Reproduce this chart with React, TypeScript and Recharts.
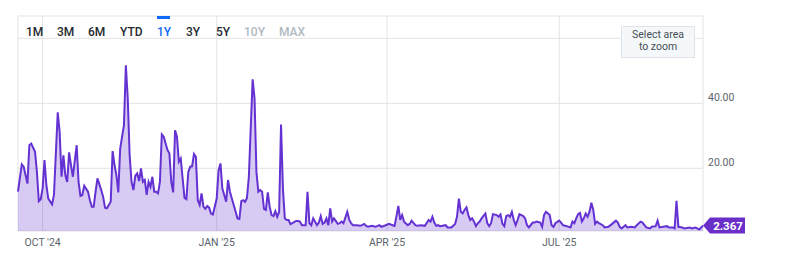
import React from "react";
import {
  AreaChart,
  Area,
  XAxis,
  YAxis,
  CartesianGrid,
  ReferenceLine,
} from "recharts";

// days since 2024-09-18
const dayOffsets = [
  0, 2, 3, 5, 6, 7, 9, 10, 11, 12,
  13, 14, 15, 16, 18, 19, 21, 22, 23, 24,
  25, 26, 27, 28, 29, 31, 32, 33, 34, 35,
  37, 38, 39, 40, 41, 42, 44, 45, 46, 47,
  49, 50, 51, 52, 53, 54, 56, 57, 58, 59,
  60, 61, 62, 63, 64, 65, 66, 67, 68, 69,
  70, 71, 72, 73, 74, 75, 76, 77, 79, 80,
  81, 82, 83, 84, 85, 86, 87, 88, 89, 90,
  91, 92, 93, 94, 95, 96, 97, 98, 99, 100,
  101, 102, 103, 105, 106, 107, 108, 109, 110, 111,
  112, 113, 114, 116, 117, 118, 119, 120, 121, 122,
  124, 125, 126, 127, 128, 129, 130, 131, 132, 133,
  134, 135, 136, 137, 138, 139, 140, 141, 142, 143,
  144, 145, 147, 148, 149, 150, 152, 153, 154, 155,
  156, 158, 159, 160, 161, 162, 163, 164, 165, 166,
  167, 169, 170, 171, 172, 174, 175, 176, 177, 179,
  181, 183, 184, 185, 187, 189, 191, 192, 194, 196,
  198, 199, 200, 201, 202, 203, 204, 206, 207, 208,
  210, 211, 213, 215, 217, 218, 219, 220, 221, 222,
  223, 226, 227, 229, 231, 232, 233, 234, 235, 236,
  237, 238, 239, 240, 241, 242, 243, 244, 245, 247,
  248, 249, 250, 251, 253, 254, 255, 256, 257, 258,
  259, 260, 261, 262, 263, 264, 265, 267, 268, 269,
  270, 272, 273, 274, 276, 277, 278, 279, 281, 282,
  283, 284, 286, 287, 288, 290, 292, 293, 294, 295,
  296, 297, 298, 299, 300, 301, 302, 303, 304, 305,
  306, 307, 309, 310, 312, 314, 316, 317, 318, 319,
  321, 322, 324, 326, 327, 329, 330, 332, 334, 335,
  337, 338, 339, 341, 343, 344, 346, 347, 348, 349,
  351, 352, 355, 356, 358, 360, 361, 362,
];

const values = [
  12.8, 21.2, 20.5, 15.3, 27.1, 27.6, 25.1, 18.9, 9.9, 10.5,
  13.8, 22.5, 14.8, 10.7, 8.9, 11.8, 37.2, 31.2, 17.4, 24.0,
  17.9, 15.8, 24.9, 21.0, 17.4, 27.1, 15.8, 11.5, 11.8, 14.6,
  12.8, 10.2, 8.2, 8.2, 12.8, 16.9, 13.3, 11.2, 7.9, 7.7,
  9.7, 25.3, 21.0, 17.9, 12.6, 26.1, 33.3, 51.7, 41.5, 24.0,
  15.8, 13.3, 17.7, 18.4, 16.1, 20.0, 15.8, 16.4, 11.8, 15.8,
  14.3, 17.4, 12.8, 12.8, 12.3, 15.8, 30.4, 29.7, 25.6, 24.6,
  15.8, 12.6, 31.7, 29.7, 22.0, 23.0, 16.9, 10.9, 10.5, 18.9,
  20.5, 20.6, 24.4, 23.5, 10.2, 8.7, 12.3, 8.2, 7.5, 8.4,
  7.9, 6.1, 5.8, 10.7, 19.4, 21.5, 13.8, 11.8, 9.7, 16.4,
  12.8, 10.7, 8.7, 4.6, 4.4, 9.9, 10.2, 9.7, 10.9, 17.4,
  47.4, 41.5, 18.9, 12.8, 13.3, 12.8, 7.5, 7.2, 12.6, 8.2,
  5.6, 5.3, 6.8, 5.1, 6.6, 33.5, 13.8, 4.6, 4.1, 4.1,
  2.8, 3.1, 3.8, 3.8, 3.6, 2.5, 2.5, 12.8, 3.1, 2.5,
  4.6, 2.5, 3.3, 5.3, 2.9, 3.3, 4.6, 2.5, 7.7, 3.6,
  4.6, 2.9, 3.1, 3.6, 3.1, 6.6, 4.3, 3.1, 2.5, 2.5,
  2.3, 2.9, 2.3, 2.0, 2.3, 2.0, 2.5, 2.0, 2.4, 2.9,
  2.5, 2.3, 5.3, 8.4, 4.1, 5.6, 3.6, 2.5, 2.9, 3.9,
  2.5, 2.3, 2.5, 2.3, 4.1, 3.6, 5.1, 3.3, 2.3, 2.5,
  2.2, 2.5, 1.8, 1.8, 2.9, 5.1, 10.7, 6.6, 6.1, 7.2,
  8.0, 5.6, 4.1, 4.6, 3.6, 2.2, 3.1, 3.6, 4.6, 6.1,
  3.1, 2.2, 3.1, 5.9, 5.6, 5.1, 5.8, 2.9, 2.2, 5.3,
  5.6, 5.1, 6.6, 4.1, 2.5, 4.1, 5.9, 5.3, 4.6, 2.5,
  1.8, 3.3, 3.3, 3.6, 3.3, 2.0, 5.6, 6.6, 5.6, 2.5,
  2.0, 3.1, 3.9, 3.3, 2.5, 2.2, 1.8, 3.6, 3.1, 4.6,
  5.9, 6.3, 3.6, 4.6, 6.1, 5.1, 6.6, 9.4, 7.2, 2.9,
  3.6, 3.1, 2.5, 1.8, 2.0, 2.9, 3.9, 3.3, 2.0, 1.5,
  2.5, 1.8, 2.0, 1.8, 2.5, 3.6, 3.3, 1.8, 1.5, 2.0,
  2.2, 3.9, 1.8, 2.0, 2.2, 1.8, 1.8, 1.5, 10.0, 2.0,
  1.8, 1.5, 1.8, 1.5, 1.8, 1.2, 1.8, 2.37,
];

const lastValue = 2.367;

// x ticks: frame edges + month starts
const xTicks = [0, 13, 105, 195, 286, 362];
const xTickLabels: Record<number, string> = {
  13: "OCT '24",
  105: "JAN '25",
  195: "APR '25",
  286: "JUL '25",
};

const yMin = 0.71;
const yMax = 66.86;
const yTicks = [20, 40, 60, yMax];
const yLabelTicks = [20, 40];

const ranges = ["1M", "3M", "6M", "YTD", "1Y", "3Y", "5Y", "10Y", "MAX"];
const rangeLeft = [26, 57, 88, 120, 157, 186, 216, 244, 279];
const activeRange = "1Y";
const disabledRanges = ["10Y", "MAX"];

const data = dayOffsets.map((d, i) => ({ day: d, value: values[i] }));

const FONT = "Roboto, 'Helvetica Neue', Arial, sans-serif";
const PURPLE = "#6432d2";

function YTick(props: any) {
  const { x, y, payload } = props;
  if (!yLabelTicks.includes(payload.value)) return null;
  return (
    <text
      x={x}
      y={y - 6}
      fill="#5b636a"
      fontSize={10.5}
      fontFamily={FONT}
      textAnchor="start"
      dominantBaseline="central"
    >
      {payload.value.toFixed(2)}
    </text>
  );
}

function renderBadge(props: any) {
  const vb = props.viewBox || {};
  const right = (vb.x || 0) + (vb.width || 0);
  const cy = vb.y || 0;
  const h = 8;
  return (
    <g>
      <polygon
        points={`${right},${cy} ${right + 7},${cy - h} ${right + 42},${cy - h} ${right + 42},${cy + h} ${right + 7},${cy + h}`}
        fill="#6a2fc9"
      />
      <text
        x={right + 25}
        y={cy}
        fill="#fff"
        fontSize={11.5}
        fontWeight={700}
        fontFamily={FONT}
        textAnchor="middle"
        dominantBaseline="central"
      >
        {lastValue.toFixed(3)}
      </text>
    </g>
  );
}

export default function App() {
  return (
    <div
      style={{
        position: "absolute",
        left: 0,
        top: 0,
        width: 797,
        height: 253,
        background: "#fff",
        fontFamily: FONT,
        overflow: "hidden",
      }}
    >
      <AreaChart
        width={797}
        height={253}
        data={data}
        margin={{ top: 16, right: 0, bottom: 0, left: 18 }}
      >
        <CartesianGrid stroke="#e3e3e3" strokeWidth={1} />
        <XAxis
          dataKey="day"
          type="number"
          domain={[0, 362]}
          ticks={xTicks}
          interval={0}
          height={22}
          axisLine={false}
          tickLine={false}
          tickFormatter={(v: number) => xTickLabels[v] || ""}
          tick={{ fontSize: 10.5, fill: "#5b636a", fontFamily: FONT }}
        />
        <YAxis
          orientation="right"
          width={94}
          domain={[yMin, yMax]}
          ticks={yTicks}
          interval={0}
          allowDataOverflow
          axisLine={false}
          tickLine={false}
          tickSize={0}
          tickMargin={5}
          tick={<YTick />}
        />
        <Area
          type="linear"
          dataKey="value"
          stroke={PURPLE}
          strokeWidth={2}
          fill="#6a35d2"
          fillOpacity={0.26}
          dot={false}
          activeDot={false}
          isAnimationActive={false}
        />
        <ReferenceLine
          y={lastValue}
          stroke="none"
          ifOverflow="visible"
          label={renderBadge}
        />
      </AreaChart>

      {ranges.map((r, i) => (
        <div
          key={r}
          style={{
            position: "absolute",
            left: rangeLeft[i],
            top: 24,
            fontSize: 12,
            lineHeight: "16px",
            fontWeight: 500,
            color:
              r === activeRange
                ? "#0f69ff"
                : disabledRanges.includes(r)
                ? "#b0b9c1"
                : "#232a31",
          }}
        >
          {r}
        </div>
      ))}
      <div
        style={{
          position: "absolute",
          left: 157,
          top: 16,
          width: 13,
          height: 3,
          background: "#0f69ff",
        }}
      />

      <div
        style={{
          position: "absolute",
          left: 621,
          top: 26,
          width: 74,
          height: 32,
          boxSizing: "border-box",
          background: "#f5f8fa",
          border: "1px solid #e0e4e9",
          color: "#464e56",
          fontSize: 10.5,
          lineHeight: "12px",
          textAlign: "center",
          paddingTop: 2,
        }}
      >
        Select area
        <br />
        to zoom
      </div>
    </div>
  );
}
